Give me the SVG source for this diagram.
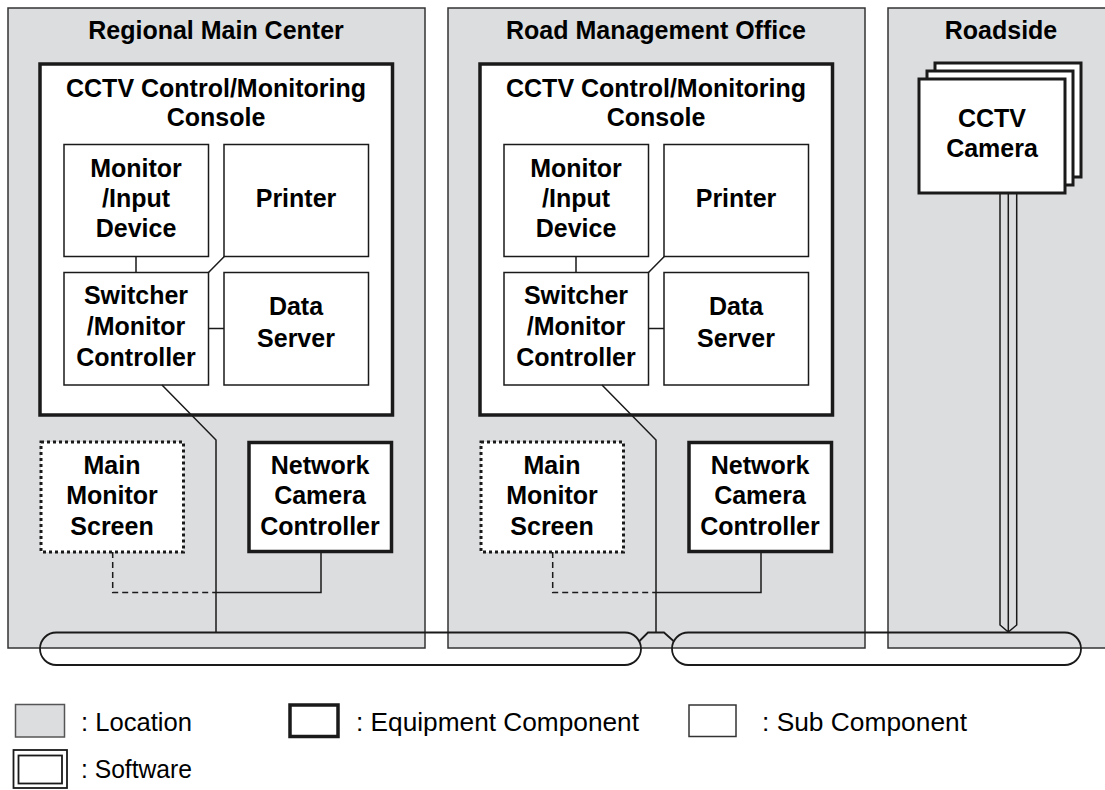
<svg xmlns="http://www.w3.org/2000/svg" width="1105" height="790" viewBox="0 0 1105 790">
  <style>
    .loc { fill: #dcdddf; stroke: #333; stroke-width: 1.5; }
    .equip { fill: #fff; stroke: #1a1a1a; stroke-width: 3.5; }
    .cam { fill: #fff; stroke: #1a1a1a; stroke-width: 3; }
    .sub { fill: #fff; stroke: #1a1a1a; stroke-width: 1.5; }
    .dotted { fill: #fff; stroke: #1a1a1a; stroke-width: 3; stroke-dasharray: 3 3; }
    .wire { fill: none; stroke: #1a1a1a; stroke-width: 1.5; }
    .dash { fill: none; stroke: #1a1a1a; stroke-width: 1.5; stroke-dasharray: 6 4; }
    .bus { fill: none; stroke: #1a1a1a; stroke-width: 1.8; }
    .t { font-family: "Liberation Sans", Arial, sans-serif; font-weight: bold; font-size: 25px; fill: #000; text-anchor: middle; }
    .lg { font-family: "Liberation Sans", Arial, sans-serif; font-size: 26px; fill: #000; }
  </style>

  <!-- Locations -->
  <g id="loc-regional">
    <rect class="loc" x="8" y="8" width="417" height="640"/>
    <text class="t" x="216" y="39">Regional Main Center</text>
  </g>
  <g id="loc-office">
    <rect class="loc" x="448" y="8" width="417" height="640"/>
    <text class="t" x="656" y="39">Road Management Office</text>
  </g>
  <g id="loc-roadside">
    <rect class="loc" x="888" y="8" width="230" height="640"/>
    <text class="t" x="1001" y="39">Roadside</text>
  </g>

  <!-- Regional Main Center equipment -->
  <g id="rmc-console">
    <rect class="equip" x="40" y="64" width="352.5" height="351"/>
    <text class="t" x="216" y="96.5">CCTV Control/Monitoring</text>
    <text class="t" x="216" y="126">Console</text>
  </g>
  <g id="rmc-monitor-input">
    <rect class="sub" x="64" y="144.5" width="144.5" height="112"/>
    <text class="t" x="136" y="176.5">Monitor</text>
    <text class="t" x="136" y="206.5">/Input</text>
    <text class="t" x="136" y="236.5">Device</text>
  </g>
  <g id="rmc-printer">
    <rect class="sub" x="224" y="144.5" width="144.5" height="112"/>
    <text class="t" x="296" y="207">Printer</text>
  </g>
  <g id="rmc-switcher">
    <rect class="sub" x="64" y="272.5" width="144.5" height="112.5"/>
    <text class="t" x="136" y="304">Switcher</text>
    <text class="t" x="136" y="334.5">/Monitor</text>
    <text class="t" x="136" y="365.5">Controller</text>
  </g>
  <g id="rmc-data-server">
    <rect class="sub" x="224" y="272.5" width="144.5" height="112.5"/>
    <text class="t" x="296" y="315">Data</text>
    <text class="t" x="296" y="346.5">Server</text>
  </g>
  <g id="rmc-main-monitor">
    <rect class="dotted" x="41" y="442" width="142.5" height="110"/>
    <text class="t" x="112" y="473.5">Main</text>
    <text class="t" x="112" y="504">Monitor</text>
    <text class="t" x="112" y="535">Screen</text>
  </g>
  <g id="rmc-camera-controller">
    <rect class="equip" x="249" y="442.5" width="142.5" height="109"/>
    <text class="t" x="320" y="473.5">Network</text>
    <text class="t" x="320" y="504">Camera</text>
    <text class="t" x="320" y="535">Controller</text>
  </g>

  <!-- Road Management Office equipment -->
  <g id="rmo-console">
    <rect class="equip" x="480" y="64" width="352.5" height="351"/>
    <text class="t" x="656" y="96.5">CCTV Control/Monitoring</text>
    <text class="t" x="656" y="126">Console</text>
  </g>
  <g id="rmo-monitor-input">
    <rect class="sub" x="504" y="144.5" width="144.5" height="112"/>
    <text class="t" x="576" y="176.5">Monitor</text>
    <text class="t" x="576" y="206.5">/Input</text>
    <text class="t" x="576" y="236.5">Device</text>
  </g>
  <g id="rmo-printer">
    <rect class="sub" x="664" y="144.5" width="144.5" height="112"/>
    <text class="t" x="736" y="207">Printer</text>
  </g>
  <g id="rmo-switcher">
    <rect class="sub" x="504" y="272.5" width="144.5" height="112.5"/>
    <text class="t" x="576" y="304">Switcher</text>
    <text class="t" x="576" y="334.5">/Monitor</text>
    <text class="t" x="576" y="365.5">Controller</text>
  </g>
  <g id="rmo-data-server">
    <rect class="sub" x="664" y="272.5" width="144.5" height="112.5"/>
    <text class="t" x="736" y="315">Data</text>
    <text class="t" x="736" y="346.5">Server</text>
  </g>
  <g id="rmo-main-monitor">
    <rect class="dotted" x="481" y="442" width="142.5" height="110"/>
    <text class="t" x="552" y="473.5">Main</text>
    <text class="t" x="552" y="504">Monitor</text>
    <text class="t" x="552" y="535">Screen</text>
  </g>
  <g id="rmo-camera-controller">
    <rect class="equip" x="689" y="442.5" width="142.5" height="109"/>
    <text class="t" x="760" y="473.5">Network</text>
    <text class="t" x="760" y="504">Camera</text>
    <text class="t" x="760" y="535">Controller</text>
  </g>

  <!-- Roadside camera (stacked to show several units) on its pole -->
  <g id="cctv-camera">
    <path class="wire" d="M1000,193 V625 L1008.3,632 L1016.7,625 V193 M1008.3,193 V632"/>
    <rect class="cam" x="935" y="63" width="146" height="114"/>
    <rect class="cam" x="927" y="71" width="146" height="114"/>
    <rect class="cam" x="919" y="79" width="146" height="114"/>
    <text class="t" x="992" y="126.5">CCTV</text>
    <text class="t" x="992" y="156.5">Camera</text>
  </g>

  <!-- Connectors -->
  <g id="connectors">
    <!-- inside each console -->
    <path class="wire" d="M136,256.5 V272.5 M224.3,256.5 L208.5,272.5 M208.5,328.5 H224"/>
    <path class="wire" d="M576,256.5 V272.5 M664.3,256.5 L648.5,272.5 M648.5,328.5 H664"/>
    <!-- switcher down to the network -->
    <path class="wire" d="M162,385 L216,440 V632.5"/>
    <path class="wire" d="M602,385 L656,440 V632.5"/>
    <!-- camera controller to main monitor -->
    <path class="dash" d="M112.7,552 V592.5 H216"/>
    <path class="wire" d="M216,592.5 H321 V551.5"/>
    <path class="dash" d="M552.7,552 V592.5 H656"/>
    <path class="wire" d="M656,592.5 H761 V551.5"/>
    <!-- network bus segments and the bridge joining them -->
    <rect class="bus" x="40" y="632.5" width="601" height="32.5" rx="16.25"/>
    <rect class="bus" x="672" y="632.5" width="409" height="32.5" rx="16.25"/>
    <path class="bus" d="M639.5,641 L648,632.5 H664 L673.5,641"/>
  </g>

  <!-- Legend -->
  <g id="legend">
    <rect x="15.5" y="704.5" width="49" height="32.5" fill="#dcdddf" stroke="#555" stroke-width="1.5"/>
    <text class="lg" x="81" y="731" textLength="111" lengthAdjust="spacingAndGlyphs">: Location</text>
    <rect x="290" y="705" width="48" height="31.5" fill="#fff" stroke="#1a1a1a" stroke-width="3.5"/>
    <text class="lg" x="356" y="731" textLength="283" lengthAdjust="spacingAndGlyphs">: Equipment Component</text>
    <rect x="689" y="705" width="47" height="31.5" fill="#fff" stroke="#333" stroke-width="1.5"/>
    <text class="lg" x="762" y="731" textLength="205" lengthAdjust="spacingAndGlyphs">: Sub Component</text>
    <rect x="13.5" y="750" width="53.5" height="38" fill="#fff" stroke="#1a1a1a" stroke-width="1.8"/>
    <rect x="18.5" y="755.5" width="43.5" height="28" fill="#fff" stroke="#1a1a1a" stroke-width="1.8"/>
    <text class="lg" x="81" y="777.5" textLength="111" lengthAdjust="spacingAndGlyphs">: Software</text>
  </g>
</svg>
